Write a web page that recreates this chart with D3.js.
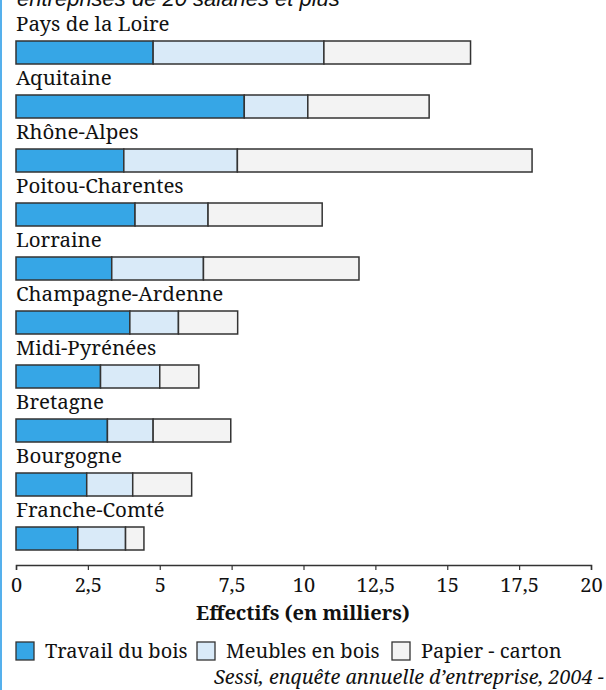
<!DOCTYPE html>
<html><head><meta charset="utf-8">
<script src="https://cdn.jsdelivr.net/npm/d3@7"></script>
<style>
body{margin:0;background:#fff}svg{display:block}
</style>
</head><body>
<svg id="c" width="606" height="690"></svg>
<script>
const categories = ["Pays de la Loire","Aquitaine","Rhône-Alpes","Poitou-Charentes","Lorraine","Champagne-Ardenne","Midi-Pyrénées","Bretagne","Bourgogne","Franche-Comté"];
const seriesNames = ["Travail du bois","Meubles en bois","Papier - carton"];
const travail = [4.77,7.94,3.75,4.14,3.33,3.96,2.94,3.18,2.46,2.15];
const meubles = [5.94,2.21,3.95,2.54,3.19,1.69,2.06,1.59,1.60,1.66];
const papier  = [5.10,4.22,10.25,3.97,5.41,2.06,1.36,2.70,2.05,0.64];
const tickValues = [0,2.5,5,7.5,10,12.5,15,17.5,20];
const colors = ["#36a6e6","#d9eaf8","#f3f3f3"];
const titleText = "entreprises de 20 salariés et plus";
const axisTitle = "Effectifs (en milliers)";
const sourceText = "Sessi, enquête annuelle d’entreprise, 2004 -";

const SERIF = "Noto Serif";
const svg = d3.select("#c");
const rows = categories.map((c,i)=>({cat:c, v:[travail[i],meubles[i],papier[i]]}));
const stack = d3.stack().keys([0,1,2]).value((d,k)=>d.v[k]);
const stacked = stack(rows);

const x = d3.scaleLinear().domain([0,20]).range([16,591]);
const y = d3.scaleBand().domain(categories).range([14,14+54*10]);

svg.append("rect").attr("x",0).attr("y",0).attr("width",2).attr("height",690).attr("fill","#55b0ec");

svg.append("text").attr("font-family","Liberation Sans").attr("x",17).attr("y",6)
  .attr("font-style","italic").attr("font-size",22).attr("fill","#111").text(titleText);

svg.append("g").selectAll("text").data(categories).join("text").attr("font-family",SERIF)
  .attr("x",16).attr("y",d=>y(d)+17).attr("font-size",20.5).attr("fill","#111").text(d=>d);

svg.append("g").selectAll("g").data(stacked).join("g").attr("fill",(d,i)=>colors[i])
  .selectAll("rect").data(d=>d).join("rect")
  .attr("x",d=>x(d[0])).attr("width",d=>x(d[1])-x(d[0]))
  .attr("y",d=>y(d.data.cat)+27).attr("height",23)
  .attr("stroke","#333").attr("stroke-width",1.5);

const loc = d3.formatLocale({decimal:",",thousands:" ",grouping:[3],currency:["","€"]});
const fmt = v => loc.format(",")(v);
const ax = svg.append("g").attr("transform","translate(0,565)")
  .call(d3.axisBottom(x).tickValues(tickValues).tickFormat(fmt).tickSize(5).tickSizeOuter(5).tickPadding(8));
ax.attr("font-family",SERIF).attr("font-size",20);
ax.select(".domain").attr("stroke","#333").attr("stroke-width",1.5);
ax.selectAll(".tick line").attr("stroke","#333").attr("stroke-width",1.2);
ax.selectAll(".tick text").attr("fill","#111");

svg.append("text").attr("font-family",SERIF).attr("x",303).attr("y",620).attr("text-anchor","middle")
  .attr("font-weight","bold").attr("font-size",20).attr("fill","#111").text(axisTitle);

const legX = [16,197,392];
const lg = svg.append("g").selectAll("g").data(seriesNames).join("g")
  .attr("transform",(d,i)=>`translate(${legX[i]},642)`);
lg.append("rect").attr("x",0).attr("y",0).attr("width",18).attr("height",18)
  .attr("fill",(d,i)=>colors[i]).attr("stroke","#333").attr("stroke-width",1.3);
lg.append("text").attr("font-family",SERIF).attr("x",29).attr("y",16).attr("font-size",20).attr("fill","#111").text(d=>d);

svg.append("text").attr("font-family",SERIF).attr("x",604).attr("y",684).attr("text-anchor","end")
  .attr("font-style","italic").attr("font-size",19.8).attr("fill","#111").text(sourceText);
</script>
</body></html>
